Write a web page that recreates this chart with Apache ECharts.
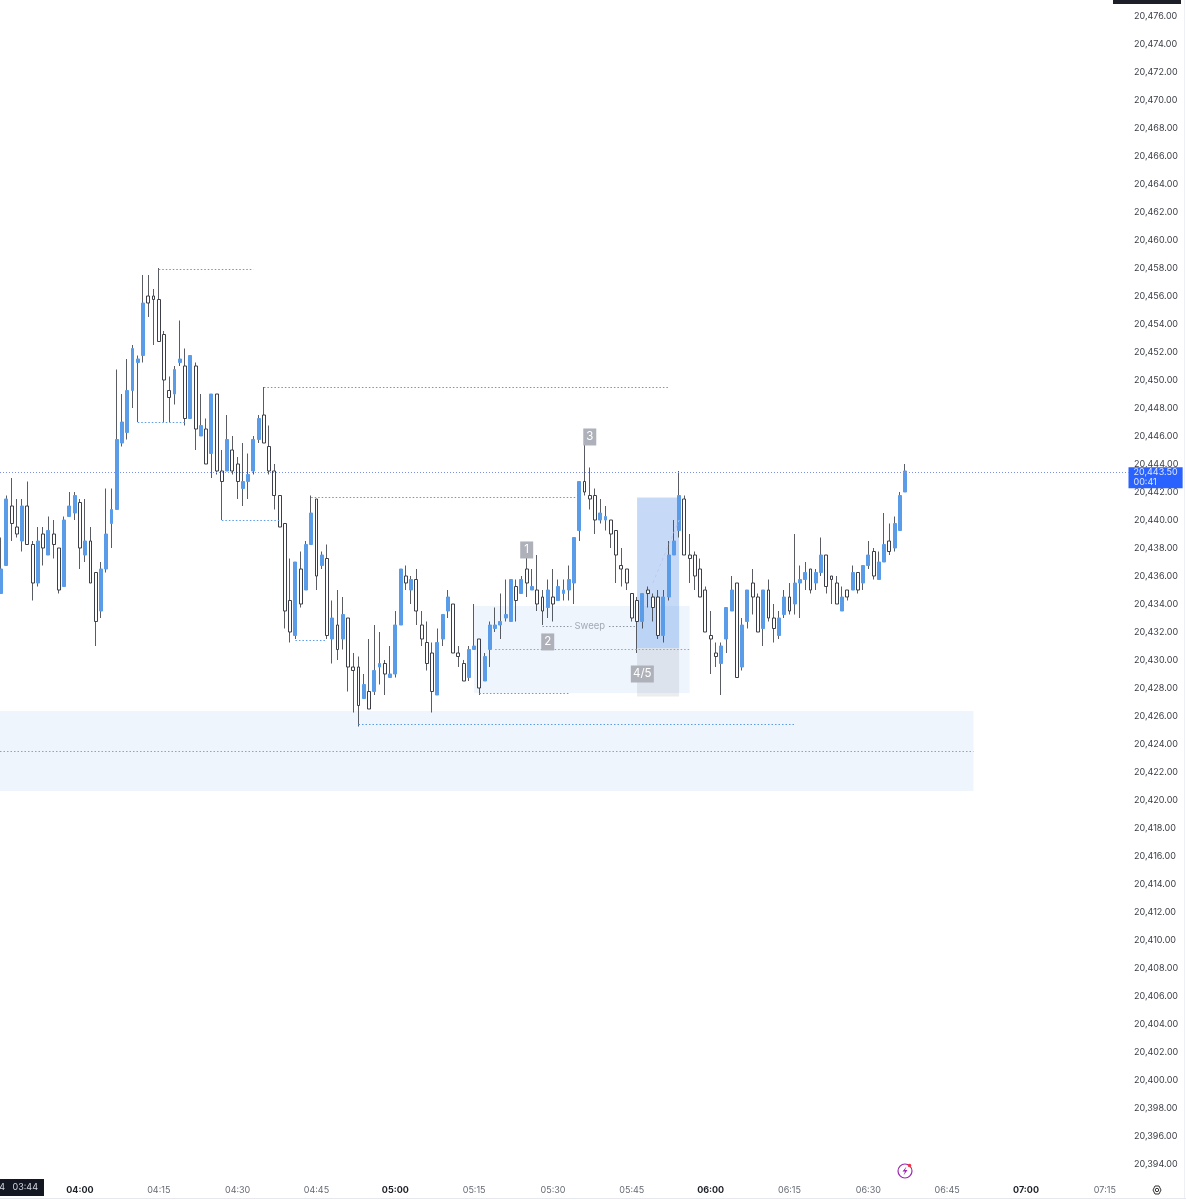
<!DOCTYPE html>
<html>
<head>
<meta charset="utf-8">
<style>html,body{margin:0;padding:0;background:#fff;}#c{width:1186px;height:1200px;}</style>
<script src="https://cdn.jsdelivr.net/npm/echarts@6/dist/echarts.min.js"></script>
</head>
<body>
<div id="c"></div>
<script>
const firstCandleMinute = 225; // 03:45, minutes after midnight
const axisMinuteMin = 224.79, axisMinuteMax = 439.5;
const timeTicks = [240,255,270,285,300,315,330,345,360,375,390,405,420,435];

const highs = [20438.75,20441.75,20443,20441.5,20441.5,20442.75,20438.5,20439.5,20439.5,20440.25,
20440,20438,20440.25,20442,20442,20441.5,20441.5,20439.5,20436.25,20437,
20442.25,20442.25,20450.75,20449,20451.5,20452.5,20451.75,20457.5,20457.5,20456.5,
20458,20453.5,20450.25,20451,20454.25,20452.25,20451.75,20451.25,20449,20447.25,
20449,20449,20445,20447.5,20446,20444.5,20445.5,20444.75,20446,20447.5,
20449.5,20446.75,20444,20441.75,20439.75,20437.25,20437,20437.75,20438.5,20441.75,
20441.5,20437.75,20438.25,20434.25,20435,20434.5,20433,20430.5,20430.25,20429,
20431.5,20432.5,20432,20430,20431,20433.5,20436.5,20436.75,20436,20436.5,
20433.5,20432.75,20431.25,20432.25,20433.25,20435,20434,20431,20430,20431,
20434,20431.5,20430.5,20432.75,20433.75,20434.75,20435.75,20435.75,20435.75,20436,
20437.5,20436.5,20437.5,20435,20435.75,20436.5,20435.75,20435.75,20436.75,20438.75,
20442.75,20446,20443.75,20442.25,20441.5,20441,20440,20439.25,20438,20436.5,
20434.75,20434.5,20434.75,20435.25,20434.75,20435,20435,20438.5,20440,20443.5,
20441.75,20439,20437.75,20437.25,20435.25,20433.5,20431.25,20431.25,20433.75,20436,
20435.5,20433,20435,20436.5,20434.75,20435,20435.75,20434,20433.5,20435,
20435.5,20439,20436.75,20437,20436.5,20436.5,20438.75,20437.5,20436,20436,
20435.25,20435,20436.75,20436.25,20436.75,20438.5,20438,20437.75,20440.5,20439.75,20440.25,20442,20444];
const opens = [20434.75,20436.75,20441,20439.5,20438.5,20441,20438.25,20435.5,20439,20437.5,
20439,20438,20435.25,20440.25,20440.5,20441.25,20437.5,20438.5,20436.25,20433.5,
20436.5,20439.75,20440.75,20445.5,20446.25,20449.25,20451.25,20451.75,20456,20456,
20455.75,20453.25,20449.25,20449,20451.25,20451,20447.25,20451,20446,20446.5,
20444.75,20449,20443.5,20443.5,20445,20444,20442.25,20442.75,20443.5,20445.75,
20447.5,20445.25,20443.5,20441.75,20439.75,20434.25,20431.75,20436.5,20435,20438.25,
20441.5,20436.75,20437.25,20431.5,20432.5,20431.5,20433,20429.5,20429.5,20427.25,
20427.75,20427.75,20429.5,20429.75,20428.75,20429,20432.5,20436,20435,20435.75,
20432.5,20431.25,20430.5,20427.5,20431.5,20433.5,20434,20430.5,20429.75,20428.75,
20430.75,20431.5,20428.5,20430.75,20432.25,20432.5,20433,20432.75,20435.25,20434.75,
20436.5,20435,20435,20434.5,20433.75,20434.5,20434.25,20434.75,20435,20435.5,
20439.25,20442.75,20441.75,20441.75,20440,20440,20440,20439.25,20436.75,20436.5,
20434.75,20434.25,20432.75,20435,20434.5,20434.5,20431.75,20434.5,20437.5,20439.25,
20441.5,20437.5,20437.5,20436.5,20435,20431.75,20430.5,20429.75,20431.5,20433.5,
20435.5,20429.5,20432.75,20435.5,20434.5,20432.25,20435,20433,20431.75,20433.25,
20434.5,20434,20435.5,20435.75,20436.5,20435.5,20436.25,20437.5,20436,20435.5,
20433.5,20435,20435,20436.25,20435.5,20436.75,20437.75,20435.75,20437,20438.5,20438,20439.25,20442];
const closes = [20436.5,20441.5,20439.75,20439,20441,20438.25,20435.5,20438.5,20438,20439.25,
20438.25,20435,20440,20441,20441.75,20438,20438.5,20435.5,20432.75,20436.5,
20439,20440.75,20445.75,20447,20449.25,20452.25,20451.5,20455.5,20455.5,20455.75,
20452.75,20450,20448.75,20450.75,20451.5,20447.25,20451.75,20446.5,20446.75,20444,
20449,20443.5,20442.75,20445.75,20443.5,20442.75,20442.75,20443.25,20445.75,20447.25,
20445.5,20443.5,20441.75,20439.5,20433.5,20432,20437,20434,20438.25,20440.5,
20436,20437.5,20431.75,20433,20430.75,20433.25,20429.5,20429.25,20426.75,20428.25,
20426.5,20429.25,20429.75,20429,20429,20432.5,20436.5,20435.5,20435.75,20433.5,
20431.5,20429.75,20427.75,20431.25,20433.25,20434.5,20430.5,20430.25,20428.5,20430.75,
20431,20428,20430.25,20432.5,20432.5,20432.75,20433.25,20435.75,20434.25,20435.75,
20435.5,20435.25,20434,20433.5,20435,20434,20435.25,20435,20435.75,20438.75,
20442.75,20442,20441.5,20440,20440.5,20440.25,20439,20437.5,20436.5,20435.5,
20433,20432.75,20434.75,20434.75,20433.75,20431.75,20434.5,20437.5,20438.5,20441.75,
20437.5,20437.25,20436,20434.5,20432,20431.5,20430.25,20431,20433.75,20435,
20428.75,20432.5,20435,20434.5,20432,20435,20433,20432.25,20433,20434.5,
20433.5,20435.5,20435.75,20436.25,20435,20436.25,20437.5,20435.25,20435.75,20434,
20434.5,20434.5,20436.25,20435,20436.75,20437.5,20436,20437,20438.25,20437.75,20439.75,20441.75,20443.5];
const lows = [20434.75,20436.75,20438.5,20438.75,20437.75,20438.25,20434.25,20435.25,20436.75,20437.5,
20437.25,20434.75,20435.25,20440.25,20440,20436.5,20437,20435.5,20431,20433,
20436.25,20438,20440.75,20445.25,20445.75,20448,20447,20451.25,20454.5,20452.5,
20452.75,20447,20447,20448.25,20451,20446.75,20447.25,20445,20446,20444,
20443,20443.25,20440,20443.5,20443.25,20441.5,20441,20441.5,20443.25,20445.5,
20445.5,20443.25,20440.75,20439.5,20432.25,20431.25,20431.5,20433.75,20435,20438.25,
20435,20436.5,20431.5,20429.75,20430,20430.75,20427.75,20426.25,20425.25,20427.25,
20426.5,20427.5,20428.25,20427.5,20428.75,20428.75,20432.5,20435,20434,20432.5,
20431,20429.25,20426.25,20427.5,20431,20433,20430.5,20429.5,20428.5,20428.5,
20430.75,20427.5,20428.5,20429.5,20432,20431.5,20432.75,20432.75,20432.75,20434.75,
20434.5,20435,20433.5,20432.5,20433,20432.75,20434.25,20434.25,20434.25,20434,
20438.5,20441.75,20440.75,20439,20439.75,20439.25,20438,20435.5,20435.25,20435,
20432.75,20430.5,20432.25,20433.75,20432.75,20431.5,20431.25,20434.25,20437.5,20438.75,
20437.5,20435.5,20435,20434.5,20432,20429,20429.5,20427.5,20430.5,20433.5,
20428.75,20429.25,20432.25,20433.25,20432,20431,20432.75,20431.25,20431.5,20433,
20433.25,20433.25,20433,20435,20434.75,20435,20436,20434.75,20434,20434,
20433.5,20434.25,20435,20434.75,20435,20436.5,20435.75,20435.75,20437,20437.5,20437.75,20439.25,20442];

const priceNow = 20443.38;
const tagLabels = ["1","2","3","4/5"];
const priceTag = ["20,443.50","00:41"];

const minutes = opens.map((_,i)=>firstCandleMinute+i);
const hhmm = m => String(Math.floor(m/60)).padStart(2,"0")+":"+String(m%60).padStart(2,"0");
const at = i => 240+i; // minutes after 04:00

const wickData = opens.map((o,i)=>[minutes[i],o,closes[i],lows[i],highs[i]]);
const bodyData = opens.map((o,i)=>[minutes[i],o,closes[i],Math.min(o,closes[i]),Math.max(o,closes[i])]);

const BLUE = "#5b9ce8", DARK = "#3c3f47";
const dotLine = (a,b,y,color)=>[{coord:[a,y],lineStyle:{color:color,type:[1.5,2],width:1.2}},{coord:[b,y]}];
const levelLines = [[15,33,20457.9],[35,112,20449.5],[11,20,20447],[27,38,20440],[44,95,20441.65],[41,47,20431.4],[53,136,20425.4],[76,93,20427.6]];

const chart = echarts.init(document.getElementById("c"), null, {renderer:"canvas"});
const FONT = "Inter";
chart.setOption({
  animation:false,
  backgroundColor:"#fff",
  textStyle:{fontFamily:FONT},
  grid:{left:0, top:0, width:1128.5, height:1192, containLabel:false},
  xAxis:{type:"value", min:axisMinuteMin, max:axisMinuteMax, scale:true,
    axisLine:{show:false}, axisTick:{show:false}, splitLine:{show:false},
    axisLabel:{customValues:timeTicks, margin:-6, fontFamily:FONT, fontSize:9, color:"#666a73",
      formatter:v=> v%60===0 ? "{h|"+hhmm(v)+"}" : hhmm(v),
      rich:{h:{fontFamily:FONT, fontSize:9, fontWeight:"bold", color:"#1d2027"}}
    }},
  yAxis:{type:"value", position:"right", min:20392, max:20477.143, interval:2, scale:true,
    axisLine:{show:false}, axisTick:{show:false}, splitLine:{show:false},
    axisLabel:{margin:5.5, showMinLabel:false, showMaxLabel:false, fontFamily:FONT, fontSize:9, color:"#3a3d45",
      formatter:v=> v.toLocaleString("en-US",{minimumFractionDigits:2,maximumFractionDigits:2})}},
  series:[
    {type:"line", name:"zones", data:[], z:1, silent:true,
     markArea:{silent:true, data:[
       [{coord:[axisMinuteMin,20426.36], itemStyle:{color:"#eff5fd"}},{coord:[at(170),20420.64]}],
       [{coord:[at(75),20433.86], itemStyle:{color:"#eff5fd"}},{coord:[at(116),20427.64]}],
       [{coord:[at(106),20441.6], itemStyle:{color:"rgba(66,133,230,0.3)"}},{coord:[at(114),20430.86]}],
       [{coord:[at(106),20430.86], itemStyle:{color:"rgba(120,125,140,0.15)"}},{coord:[at(114),20427.4]}]
     ]},
     markLine:{silent:true, symbol:"none", label:{show:false}, data:
       levelLines.map(d=>dotLine(at(d[0]),at(d[1]),d[2],BLUE)).concat([
       dotLine(axisMinuteMin,at(170),20423.5,"#8ea4c4"),
       dotLine(at(79),at(116),20430.75,"#8ea4c4"),
       (()=>{const s=dotLine(at(88),at(106),20432.4,"#8d95a3");
             s[0].label={show:true,position:"insideMiddle",formatter:"Sweep",color:"#a3a8b3",fontSize:9.5,fontFamily:FONT,backgroundColor:"#eff5fd",padding:[0,3]}; return s;})(),
       [{coord:[at(109),20435.5],lineStyle:{color:"rgba(190,195,240,0.9)",type:[3,3],width:1}},{coord:[at(114),20440]}],
       [{coord:[axisMinuteMin,priceNow], lineStyle:{color:"#7c8fe6",type:[1,2],width:1},
         label:{show:true,position:"end",distance:0,offset:[0,5],
           formatter:"{a|"+priceTag[0]+"}\n{b|"+priceTag[1]+"}",
           backgroundColor:"#2962ff",padding:[0,5,1,5],
           rich:{a:{color:"#dce6ff",fontFamily:FONT,fontSize:9,lineHeight:10,align:"left"},
                 b:{color:"#dce6ff",fontFamily:FONT,fontSize:9,lineHeight:10,align:"left"}}}},
        {coord:[axisMinuteMax,priceNow]}]
     ])}},
    {type:"line", name:"tags", data:[], z:1.5, silent:true,
     markPoint:{silent:true, symbol:"rect",
       itemStyle:{color:"#aeb1b9"},
       label:{show:true,position:"inside",color:"#fff",fontFamily:FONT,fontSize:11.5},
       data:[
        {coord:[at(85),20437.86], value:tagLabels[0], symbolSize:[13,17]},
        {coord:[at(89),20431.29], value:tagLabels[1], symbolSize:[13,17]},
        {coord:[at(97),20445.93], value:tagLabels[2], symbolSize:[13,17]},
        {coord:[at(107),20429], value:tagLabels[3], symbolSize:[23,17]}
       ]}},
    {type:"candlestick", name:"wicks", data:wickData, z:2, silent:true, barWidth:1, clip:false,
     itemStyle:{color:DARK,color0:DARK,borderColor:DARK,borderColor0:DARK,borderWidth:1,opacity:0.85}},
    {type:"candlestick", name:"bodies", data:bodyData, z:3, silent:true, barWidth:3.4, clip:false,
     itemStyle:{color:BLUE,color0:"#ffffff",borderColor:BLUE,borderColor0:DARK,borderWidth:1}}
  ],
  graphic:[
    {type:"rect", shape:{x:0,y:1179,width:44,height:17}, style:{fill:"#131722"}, z:50},
    {type:"text", style:{x:38,y:1187.5,text:"24   03:44",align:"right",verticalAlign:"middle",fill:"#d5d8df",font:"9px "+FONT}, z:51},
    {type:"rect", shape:{x:1113,y:-2,width:68,height:6}, style:{fill:"#1c1f27"}, z:50},
    {type:"rect", shape:{x:0,y:1198,width:1186,height:1}, style:{fill:"#e6e8ee"}, z:40},
    {type:"rect", shape:{x:1184,y:0,width:1,height:1198}, style:{fill:"#eef0f4"}, z:40},
    {type:"circle", shape:{cx:905,cy:1171,r:7}, style:{fill:"none",stroke:"#9c27b0",lineWidth:1.2}, z:50},
    {type:"polygon", shape:{points:[[906.5,1166.5],[902.5,1171.5],[905,1171.5],[903.5,1175.5],[907.5,1170],[905,1170]]}, style:{fill:"#9c27b0"}, z:51},
    {type:"circle", shape:{cx:909.5,cy:1165.5,r:1.8}, style:{fill:"#f23645"}, z:52},
    {type:"circle", shape:{cx:1157,cy:1190,r:1.7}, style:{fill:"none",stroke:"#333",lineWidth:1}, z:50},
    {type:"polygon", shape:{points:[[1153,1190],[1155,1186],[1159,1186],[1161,1190],[1159,1194],[1155,1194]]}, style:{fill:"none",stroke:"#333",lineWidth:1}, z:50}
  ]
});
</script>
</body>
</html>
